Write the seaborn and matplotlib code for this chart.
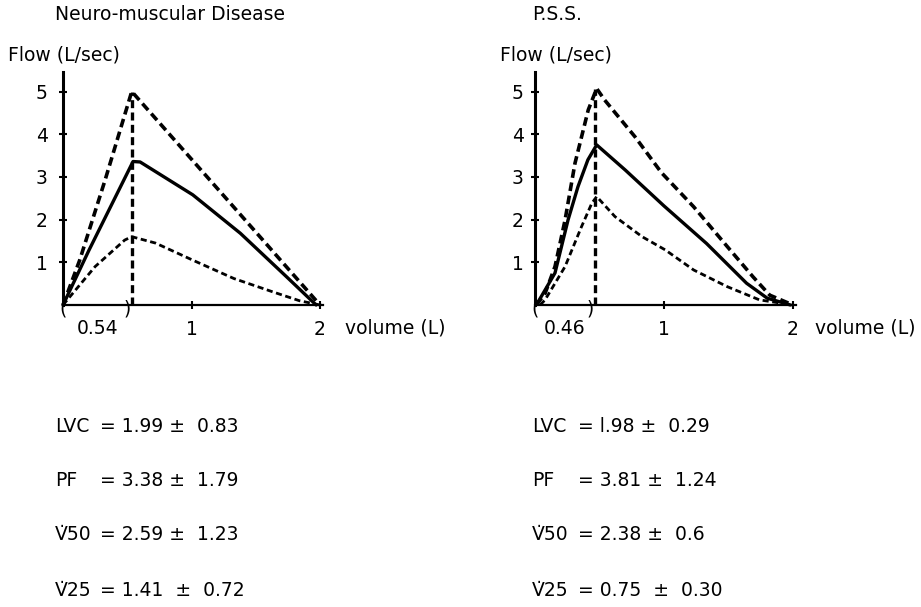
import matplotlib
matplotlib.use("Agg")
import matplotlib.pyplot as plt
import seaborn as sns
import pandas as pd

# Neuro-muscular disease curves (volume L, flow L/sec)
nm_vol_upper = [0, 0.13, 0.33, 0.535, 1.01, 1.585, 2.0]
nm_flow_upper = [0, 1.05, 2.95, 5.0, 3.38, 1.42, 0]
nm_vol_mean = [0, 0.2, 0.545, 0.6, 1.01, 1.38, 1.74, 1.97]
nm_flow_mean = [0, 1.27, 3.36, 3.35, 2.58, 1.68, 0.66, 0]
nm_vol_lower = [0, 0.25, 0.48, 0.535, 0.72, 1.01, 1.33, 1.64, 1.84, 2.0]
nm_flow_lower = [0, 0.9, 1.52, 1.6, 1.45, 1.05, 0.62, 0.3, 0.1, 0]
nm_peak_vol = 0.54

# P.S.S. curves
pss_vol_upper = [0.01, 0.078, 0.155, 0.233, 0.31, 0.413, 0.478, 0.54, 0.775, 0.98, 1.23, 1.49, 1.69, 1.82, 2.0]
pss_flow_upper = [0, 0.27, 0.9, 1.99, 3.32, 4.57, 5.07, 4.8, 3.94, 3.1, 2.3, 1.37, 0.66, 0.23, 0]
pss_vol_mean = [0.02, 0.155, 0.256, 0.333, 0.41, 0.478, 0.70, 1.0, 1.33, 1.64, 1.8, 1.98]
pss_flow_mean = [0.05, 0.75, 1.99, 2.77, 3.4, 3.75, 3.16, 2.32, 1.44, 0.51, 0.16, 0]
pss_vol_lower = [0.04, 0.078, 0.233, 0.36, 0.44, 0.478, 0.62, 0.83, 1.01, 1.23, 1.49, 1.74, 2.0]
pss_flow_lower = [0, 0.12, 0.9, 1.83, 2.38, 2.54, 2.07, 1.6, 1.29, 0.82, 0.43, 0.12, 0]
pss_peak_vol = 0.465

titles = ["Neuro-muscular Disease", "P.S.S."]
peak_labels = ["0.54", "0.46"]
stat_names = ["LVC", "PF", "V\u030750", "V\u030725"]
nm_stats = ["= 1.99 \u00b1  0.83", "= 3.38 \u00b1  1.79", "= 2.59 \u00b1  1.23", "= 1.41  \u00b1  0.72"]
pss_stats = ["= l.98 \u00b1  0.29", "= 3.81 \u00b1  1.24", "= 2.38 \u00b1  0.6", "= 0.75  \u00b1  0.30"]

sns.set_style("white")
plt.rcParams['font.family'] = ['DejaVu Sans']
plt.rcParams.update({"text.color": "black", "xtick.color": "black", "ytick.color": "black",
                     "axes.edgecolor": "black", "axes.labelcolor": "black"})
FS = 13.5

W, H = 921, 607
fig = plt.figure(figsize=(W / 100, H / 100), dpi=100)


def fx(px):
    return px / W


def fy(py):
    return 1 - py / H


def draw_panel(ax, upper, mean, lower, peak, peak_label, pad_y):
    for (vol, flow), style, lw in [(upper, (2.4, 1.3), 2.6), (mean, "-", 2.4), (lower, (2.2, 1.3), 2.0)]:
        df = pd.DataFrame({"volume": vol, "flow": flow})
        kw = dict(linestyle="-") if style == "-" else dict(dashes=style)
        sns.lineplot(data=df, x="volume", y="flow", sort=False, estimator=None,
                     color="black", lw=lw, ax=ax, clip_on=False, **kw)
    vline = pd.DataFrame({"volume": [peak, peak], "flow": [0, max(upper[1])]})
    sns.lineplot(data=vline, x="volume", y="flow", sort=False, estimator=None,
                 color="black", lw=2.4, dashes=(2.4, 1.3), ax=ax, clip_on=False)
    ax.set_xlim(0, 2.0)
    ax.set_ylim(0, 5.45)
    sns.despine(ax=ax)
    ax.spines["left"].set_linewidth(2.2)
    ax.spines["bottom"].set_linewidth(1.6)
    ax.spines["bottom"].set_bounds(0, 2.02)
    ax.set_yticks([1, 2, 3, 4, 5])
    ax.set_xticks([1, 2])
    ax.set_xticklabels(["1", "2"])
    ax.tick_params(axis="y", direction="inout", length=6, width=1.5, labelsize=FS, pad=pad_y, left=True)
    ax.tick_params(axis="x", direction="inout", length=6, width=1.5, labelsize=FS, pad=8, bottom=True)
    ax.set_xlabel("")
    ax.set_ylabel("")
    ax.text(peak / 2, -0.55, peak_label, ha="center", va="center", fontsize=FS)
    ax.text(0, -0.1, "(", ha="center", va="center", fontsize=FS)
    ax.text(peak - 0.04, -0.1, ")", ha="center", va="center", fontsize=FS)


ax1 = fig.add_axes([fx(63), fy(305), fx(257), 5.45 * 42.7 / H])
draw_panel(ax1, (nm_vol_upper, nm_flow_upper), (nm_vol_mean, nm_flow_mean),
           (nm_vol_lower, nm_flow_lower), nm_peak_vol, peak_labels[0], 8)

ax2 = fig.add_axes([fx(535), fy(305), fx(258), 5.45 * 42.7 / H])
draw_panel(ax2, (pss_vol_upper, pss_flow_upper), (pss_vol_mean, pss_flow_mean),
           (pss_vol_lower, pss_flow_lower), pss_peak_vol, peak_labels[1], 5)

# headings and axis names
fig.text(fx(55), fy(15), titles[0], ha="left", va="center", fontsize=FS)
fig.text(fx(532), fy(15), titles[1], ha="left", va="center", fontsize=FS)
fig.text(fx(8), fy(55), "Flow (L/sec)", ha="left", va="center", fontsize=FS)
fig.text(fx(500), fy(55), "Flow (L/sec)", ha="left", va="center", fontsize=FS)
fig.text(fx(345), fy(328), "volume (L)", ha="left", va="center", fontsize=FS)
fig.text(fx(815), fy(328), "volume (L)", ha="left", va="center", fontsize=FS)

# summary statistics
rows_y = [427, 480, 535, 590]
for name, nm, pss, y in zip(stat_names, nm_stats, pss_stats, rows_y):
    fig.text(fx(55), fy(y), name, ha="left", va="center", fontsize=FS)
    fig.text(fx(100), fy(y), nm, ha="left", va="center", fontsize=FS)
    fig.text(fx(532), fy(y), name, ha="left", va="center", fontsize=FS)
    fig.text(fx(578), fy(y), pss, ha="left", va="center", fontsize=FS)

fig.savefig("out.png", dpi=100)
